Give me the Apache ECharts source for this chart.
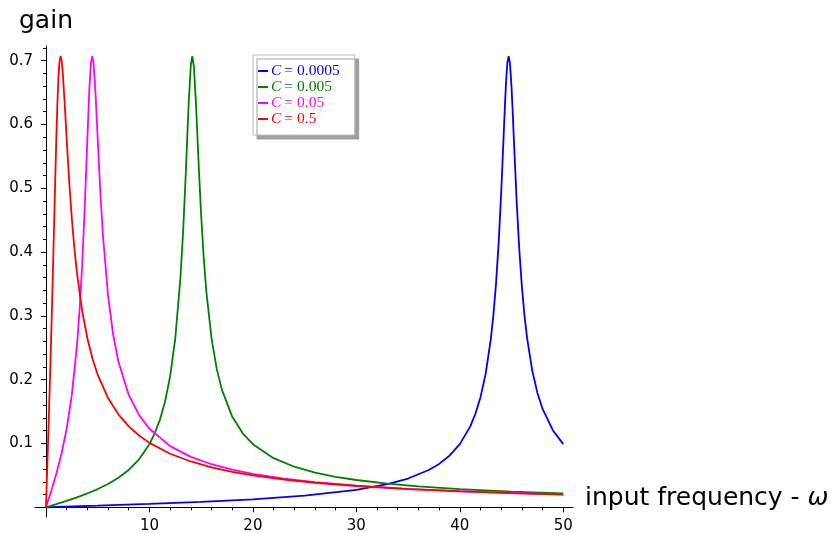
<!DOCTYPE html>
<html><head><meta charset="utf-8">
<script src="https://cdn.jsdelivr.net/npm/echarts@6/dist/echarts.min.js"></script>
<style>html,body{margin:0;padding:0;background:#fff}#c{width:832px;height:533px}</style>
</head><body><div id="c"></div>
<script>
// Series: C = 0.0005 (blue)
const blueX = [0,1,5,10,15,20,25,30,33,35,37,38,39,40,41,41.5,42,42.5,43,43.25,43.5,43.75,44,44.25,44.4,44.5,44.6,44.72,44.85,45,45.1,45.25,45.5,45.75,46,46.25,46.5,47,47.5,48,49,50];
const blueY = [0,0.0005,0.0025,0.0053,0.0085,0.0125,0.0182,0.0273,0.0362,0.0451,0.0584,0.0680,0.0809,0.0990,0.1265,0.1462,0.1726,0.2095,0.2641,0.3021,0.3506,0.4132,0.4929,0.5873,0.6433,0.6747,0.6969,0.7071,0.6957,0.6581,0.6239,0.5675,0.4776,0.4037,0.3459,0.3009,0.2656,0.2143,0.1793,0.1541,0.1204,0.0990];
// Series: C = 0.005 (green)
const greenX = [0,1,2,3,4,5,6,7,8,9,10,10.5,11,11.5,12,12.5,13,13.25,13.5,13.65,13.8,14,14.142,14.3,14.5,14.65,14.8,15,15.25,15.5,16,16.5,17,18,19,20,22,24,26,28,30,33,36,40,45,50];
const greenY = [0,0.0050,0.0102,0.0157,0.0217,0.0286,0.0365,0.0463,0.0586,0.0752,0.0990,0.1154,0.1366,0.1650,0.2051,0.2649,0.3607,0.4303,0.5178,0.5770,0.6350,0.6931,0.7071,0.6903,0.6325,0.5777,0.5231,0.4575,0.3905,0.3382,0.2649,0.2173,0.1844,0.1422,0.1164,0.0990,0.0770,0.0636,0.0545,0.0478,0.0428,0.0371,0.0328,0.0286,0.0246,0.0217];
// Series: C = 0.05 (magenta)
const magentaX = [0,0.25,0.5,1,1.5,2,2.5,3,3.25,3.5,3.75,4,4.2,4.35,4.472,4.6,4.8,5,5.25,5.5,6,6.5,7,8,9,10,12,14,16,18,20,23,26,30,35,40,45,50];
const magentaY = [0,0.0125,0.0253,0.0525,0.0839,0.1231,0.1761,0.2545,0.3096,0.3806,0.4710,0.5774,0.6571,0.6965,0.7071,0.6961,0.6454,0.5774,0.4954,0.4275,0.3313,0.2700,0.2284,0.1761,0.1444,0.1231,0.0959,0.0791,0.0675,0.0590,0.0525,0.0451,0.0396,0.0341,0.0290,0.0253,0.0224,0.0202];
// Series: C = 0.5 (red)
const redX = [0,0.05,0.1,0.2,0.3,0.4,0.5,0.6,0.7,0.8,0.9,1,1.1,1.2,1.3,1.414,1.5,1.6,1.8,2,2.25,2.5,2.75,3,3.5,4,4.5,5,6,7,8,9,10,12,14,16,18,20,23,26,30,35,40,45,50];
const redY = [0,0.0250,0.0501,0.1010,0.1533,0.2078,0.2649,0.3249,0.3877,0.4522,0.5165,0.5774,0.6304,0.6714,0.6973,0.7071,0.7022,0.6864,0.6356,0.5774,0.5094,0.4522,0.4052,0.3665,0.3075,0.2649,0.2328,0.2078,0.1712,0.1457,0.1269,0.1125,0.1010,0.0839,0.0718,0.0627,0.0557,0.0501,0.0436,0.0385,0.0334,0.0286,0.0250,0.0222,0.0200];

const seriesNames = ['C = 0.0005','C = 0.005','C = 0.05','C = 0.5'];
const seriesColors = ['#0000ff','#008000','#ff00ff','#ff0000'];

// Tick labels
const xTickLabels = [10,20,30,40,50];
const xMajorTicks = [0,10,20,30,40,50];
const xMinorTicks = [2,4,6,8,12,14,16,18,22,24,26,28,32,34,36,38,42,44,46,48];
const yTickLabels = [0.1,0.2,0.3,0.4,0.5,0.6,0.7];
const yMajorTicks = [0,0.1,0.2,0.3,0.4,0.5,0.6,0.7];
const yMinorTicks = [0.02,0.04,0.06,0.08,0.12,0.14,0.16,0.18,0.22,0.24,0.26,0.28,0.32,0.34,0.36,0.38,0.42,0.44,0.46,0.48,0.52,0.54,0.56,0.58,0.62,0.64,0.66,0.68,0.72];

const xs = [blueX, greenX, magentaX, redX];
const ys = [blueY, greenY, magentaY, redY];

const X_MIN = -1.06, X_MAX = 50.94, Y_MIN = -0.0152, Y_MAX = 0.723;
const font = 'DejaVu Sans';
const serif = 'Liberation Serif';

const chart = echarts.init(document.getElementById('c'), null, {renderer:'canvas'});
chart.setOption({
  animation: false,
  backgroundColor: '#ffffff',
  title: {
    text: 'gain', left: 19, top: 9, padding: 0,
    textStyle: {fontFamily: font, fontSize: 25, fontWeight: 'normal', color: '#000', lineHeight: 25}
  },
  legend: {
    orient: 'vertical', left: 253, top: 55,
    padding: [8, 15, 8, 5], itemGap: 0,
    backgroundColor: '#fff', borderColor: '#bbb', borderWidth: 1,
    shadowColor: '#a0a0a0', shadowBlur: 0, shadowOffsetX: 4, shadowOffsetY: 4,
    icon: 'rect', itemWidth: 10, itemHeight: 2,
    data: seriesNames.map((n, i) => ({name: n, textStyle: {color: seriesColors[i]}})),
    formatter: n => '{c|C}{e|=}{d|' + n.slice(4) + '}',
    textStyle: {fontFamily: serif, fontSize: 15.5, lineHeight: 16, padding: [0,0,0,-2],
      rich: {
        c: {fontFamily: serif, fontStyle: 'italic', fontSize: 15.5, lineHeight: 16},
        e: {fontFamily: serif, fontSize: 15.5, lineHeight: 16, padding: [0,4,0,3]},
        d: {fontFamily: serif, fontSize: 15.5, lineHeight: 16}
      }}
  },
  grid: {left: 35, right: 259, top: 46, bottom: 16, containLabel: false, outerBoundsMode: 'none'},
  xAxis: [
    {
      type: 'value', min: X_MIN, max: X_MAX, gridIndex: 0, position: 'bottom',
      axisLine: {show: true, onZero: true, lineStyle: {color: '#000', width: 1}},
      axisTick: {show: true, length: 5, customValues: xMajorTicks, lineStyle: {color: '#000', width: 1}},
      axisLabel: {show: true, customValues: xTickLabels, margin: 2, color: '#000', fontFamily: font, fontSize: 15},
      splitLine: {show: false},
      name: '{t|input frequency - }{w|ω}', nameLocation: 'end', nameGap: 12,
      nameTextStyle: {padding: [0,0,18,0], rich: {
        t: {fontFamily: font, fontSize: 25, color: '#000'},
        w: {fontFamily: font, fontSize: 25, fontStyle: 'italic', color: '#000'}}}
    },
    {
      type: 'value', min: X_MIN, max: X_MAX, gridIndex: 0, position: 'bottom',
      axisLine: {show: false, onZero: true},
      axisTick: {show: true, length: 3, customValues: xMinorTicks, lineStyle: {color: '#000', width: 1}},
      axisLabel: {show: false}, splitLine: {show: false}
    }
  ],
  yAxis: [
    {
      type: 'value', min: Y_MIN, max: Y_MAX, gridIndex: 0, position: 'left',
      axisLine: {show: true, onZero: true, lineStyle: {color: '#000', width: 1}},
      axisTick: {show: true, length: 5, customValues: yMajorTicks, lineStyle: {color: '#000', width: 1}},
      axisLabel: {show: true, customValues: yTickLabels, margin: 2, color: '#000', fontFamily: font, fontSize: 15,
        formatter: v => (Math.round(v * 10) / 10).toString()},
      splitLine: {show: false}
    },
    {
      type: 'value', min: Y_MIN, max: Y_MAX, gridIndex: 0, position: 'left',
      axisLine: {show: false, onZero: true},
      axisTick: {show: true, length: 3, customValues: yMinorTicks, lineStyle: {color: '#000', width: 1}},
      axisLabel: {show: false}, splitLine: {show: false}
    }
  ],
  series: seriesNames.map((n, i) => ({
    name: n, type: 'line', xAxisIndex: 0, yAxisIndex: 0,
    data: xs[i].map((x, j) => [x, ys[i][j]]),
    showSymbol: false, symbol: 'none', smooth: false,
    lineStyle: {color: seriesColors[i], width: 1.8},
    itemStyle: {color: seriesColors[i]},
    clip: true
  }))
});
</script></body></html>
